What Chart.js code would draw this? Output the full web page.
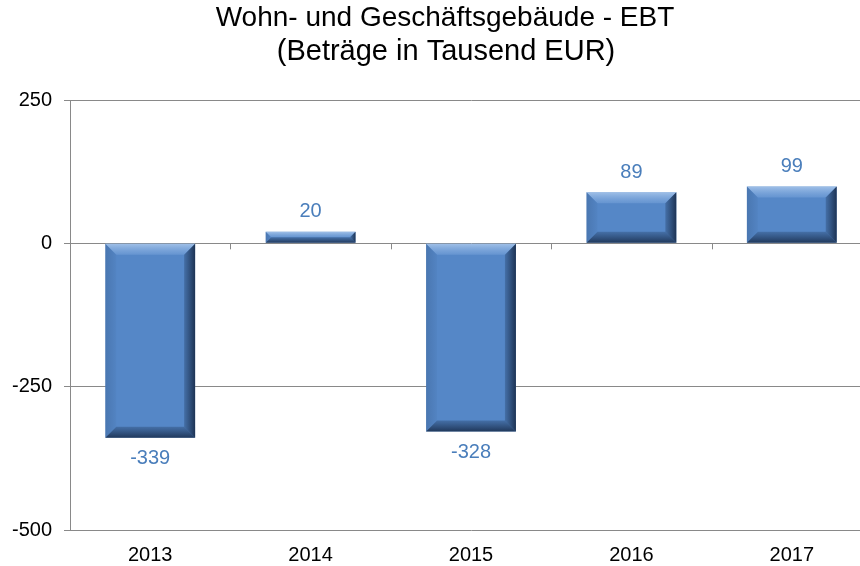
<!DOCTYPE html>
<html>
<head>
<meta charset="utf-8">
<script src="https://cdn.jsdelivr.net/npm/chart.js@4"></script>
<style>
  html, body { margin: 0; padding: 0; background: #fff; overflow: hidden; }
  #wrap { width: 872px; height: 566px; }
</style>
</head>
<body>
<div id="wrap"><canvas id="chartEbt" width="872" height="566"></canvas></div>
<script>
// Daten aus der Vorlage
const jahre = ['2013', '2014', '2015', '2016', '2017'];
const ebt = [-339, 20, -328, 89, 99];
const titelZeilen = ['Wohn- und Geschäftsgebäude - EBT', '(Beträge in Tausend EUR)'];
const yMin = -500, yMax = 250, yStep = 250;

const FONT = '"Liberation Sans", Arial, sans-serif';
const GRAU = '#898989';
const BALKEN = '#5587c7';
const LABEL_FARBE = '#4a7ebb';

// Titel selbst zeichnen (leicht nach rechts versetzt wie im Original)
const titelPlugin = {
  id: 'titel',
  afterDraw(chart) {
    const ctx = chart.ctx;
    ctx.save();
    ctx.fillStyle = '#000';
    ctx.textAlign = 'center';
    ctx.textBaseline = 'middle';
    ctx.font = '28px ' + FONT;
    ctx.fillText(titelZeilen[0], 445, 18);
    ctx.font = '29px ' + FONT;
    ctx.fillText(titelZeilen[1], 446, 52);
    ctx.restore();
  }
};

// Abgeschrägte Kanten auf den Balken
const bevelPlugin = {
  id: 'bevel',
  afterDatasetsDraw(chart) {
    const ctx = chart.ctx;
    chart.getDatasetMeta(0).data.forEach(el => {
      const l = el.x - el.width / 2, r = el.x + el.width / 2;
      const t = Math.min(el.y, el.base), b = Math.max(el.y, el.base);
      const h = b - t, w = r - l;
      const s = Math.min(11, h / 2, w / 2);
      ctx.save();
      // oben hell
      let g = ctx.createLinearGradient(0, t, 0, t + s);
      g.addColorStop(0, 'rgba(190,215,245,0.7)');
      g.addColorStop(1, 'rgba(140,180,230,0.3)');
      ctx.fillStyle = g;
      ctx.beginPath();
      ctx.moveTo(l, t); ctx.lineTo(r, t); ctx.lineTo(r - s, t + s); ctx.lineTo(l + s, t + s); ctx.closePath();
      ctx.fill();
      // links leicht dunkel
      g = ctx.createLinearGradient(l, 0, l + s, 0);
      g.addColorStop(0, 'rgba(40,70,110,0.25)');
      g.addColorStop(1, 'rgba(40,70,110,0.05)');
      ctx.fillStyle = g;
      ctx.beginPath();
      ctx.moveTo(l, t); ctx.lineTo(l + s, t + s); ctx.lineTo(l + s, b - s); ctx.lineTo(l, b); ctx.closePath();
      ctx.fill();
      // rechts dunkel
      g = ctx.createLinearGradient(r - s, 0, r, 0);
      g.addColorStop(0, 'rgba(20,40,70,0.25)');
      g.addColorStop(1, 'rgba(15,30,55,0.8)');
      ctx.fillStyle = g;
      ctx.beginPath();
      ctx.moveTo(r, t); ctx.lineTo(r, b); ctx.lineTo(r - s, b - s); ctx.lineTo(r - s, t + s); ctx.closePath();
      ctx.fill();
      // unten dunkel
      g = ctx.createLinearGradient(0, b - s, 0, b);
      g.addColorStop(0, 'rgba(20,40,70,0.25)');
      g.addColorStop(1, 'rgba(15,30,55,0.75)');
      ctx.fillStyle = g;
      ctx.beginPath();
      ctx.moveTo(l, b); ctx.lineTo(l + s, b - s); ctx.lineTo(r - s, b - s); ctx.lineTo(r, b); ctx.closePath();
      ctx.fill();
      ctx.restore();
    });
  }
};

// Werte an den Balken + Teilstriche an der Nulllinie
const wertePlugin = {
  id: 'werte',
  afterDraw(chart) {
    const ctx = chart.ctx;
    const xs = chart.scales.x, ys = chart.scales.y;
    ctx.save();
    // Teilstriche auf der Nulllinie zwischen den Kategorien
    const y0 = ys.getPixelForValue(0);
    ctx.strokeStyle = GRAU;
    ctx.lineWidth = 1;
    for (let i = 1; i < jahre.length; i++) {
      const x = Math.round((xs.getPixelForValue(i - 1) + xs.getPixelForValue(i)) / 2) + 0.5;
      ctx.beginPath();
      ctx.moveTo(x, y0);
      ctx.lineTo(x, y0 + 6);
      ctx.stroke();
    }
    ctx.fillStyle = LABEL_FARBE;
    ctx.font = '20px ' + FONT;
    ctx.textAlign = 'center';
    ctx.textBaseline = 'middle';
    chart.getDatasetMeta(0).data.forEach((el, i) => {
      const v = ebt[i];
      const y = v >= 0 ? el.y - 20 : el.y + 21;
      ctx.fillText(String(v), el.x, y);
    });
    ctx.restore();
  }
};

new Chart(document.getElementById('chartEbt'), {
  type: 'bar',
  data: {
    labels: jahre,
    datasets: [{
      label: 'EBT',
      data: ebt,
      backgroundColor: BALKEN,
      borderWidth: 0,
      barPercentage: 0.56,
      categoryPercentage: 1.0
    }]
  },
  options: {
    responsive: false,
    animation: false,
    layout: { padding: { top: 100, right: 0, left: 0, bottom: 0 } },
    plugins: {
      legend: { display: false },
      tooltip: { enabled: false },
      title: { display: false }
    },
    scales: {
      x: {
        grid: { display: false },
        border: { display: false },
        ticks: { color: '#000', font: { family: FONT, size: 20 }, padding: 5, maxRotation: 0 },
        afterFit(scale) { scale.height = 36; }
      },
      y: {
        min: yMin,
        max: yMax,
        ticks: { stepSize: yStep, color: '#000', font: { family: FONT, size: 20 }, padding: 12 },
        grid: { color: GRAU, lineWidth: 1, tickLength: 6 },
        border: { display: true, color: GRAU, width: 1 },
        afterFit(scale) { scale.width = 70; }
      }
    }
  },
  plugins: [titelPlugin, bevelPlugin, wertePlugin]
});
</script>
</body>
</html>
